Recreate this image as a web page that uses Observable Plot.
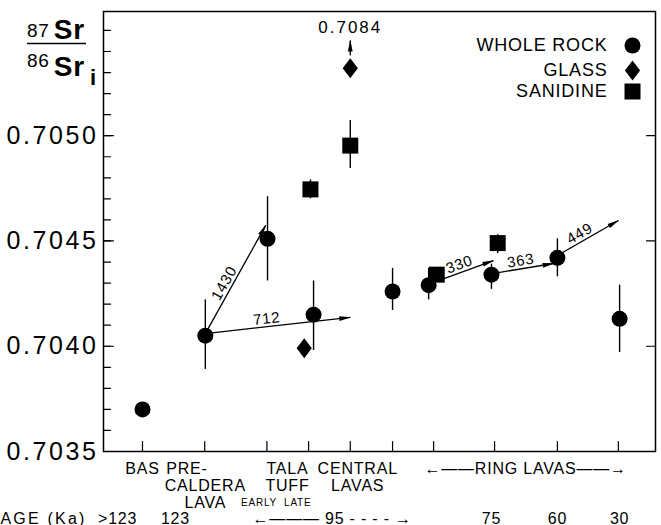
<!DOCTYPE html>
<html><head><meta charset="utf-8">
<script src="https://cdn.jsdelivr.net/npm/d3@7"></script>
<script src="https://cdn.jsdelivr.net/npm/@observablehq/plot@0.6"></script>
<style>
body{margin:0;background:#fff}
#chart svg{font-family:"Liberation Sans",Arial,sans-serif;color:#000}
#chart svg text{letter-spacing:0.8px}
#chart svg g[aria-label="y-axis tick label"] text{letter-spacing:2.6px}
</style>
</head><body><div id="chart"></div>
<script>
// ---- data (x = position along the sample sequence, y = 87Sr/86Sr initial) ----
const wrX  = [1, 2.01, 3.01, 3.75, 5.02, 5.6, 6.61, 7.67, 8.67];
const wrY  = [0.70370, 0.70405, 0.70451, 0.70415, 0.70426, 0.70429, 0.70434, 0.70442, 0.70413];
const wrLo = [null, 0.70389, 0.70431, 0.70398, 0.70417, 0.70422, 0.70427, 0.70433, 0.70397];
const wrHi = [null, 0.70422, 0.70471, 0.70431, 0.70437, 0.70437, 0.70439, 0.70451, 0.70429];

const glX = [3.6, 4.34];
const glY = [0.70399, 0.70532];

const saX  = [3.7, 4.34, 5.73, 6.71];
const saY  = [0.704745, 0.704953, 0.70434, 0.70449];
const saLo = [0.70470, 0.704844, null, 0.70444];
const saHi = [0.70479, 0.705072, null, 0.70453];

const arrowX1 = [2.01, 2.01, 5.76, 6.72, 7.67, 4.34];
const arrowY1 = [0.70406, 0.70406, 0.704312, 0.70435, 0.704431, 0.705381];
const arrowX2 = [2.98, 4.34, 6.64, 7.61, 8.65, 4.34];
const arrowY2 = [0.704574, 0.704137, 0.704407, 0.704393, 0.704597, 0.705452];
const arrowLabels = ["1430", "712", "330", "363", "449", ""];

const offLabel = ["0.7084"], offLabelX = [4.34], offLabelY = [0.705486];

const xTicks = [1, 2, 3, 3.67, 4.34, 5.02, 5.68, 6.66, 7.67, 8.65];
const yLabelTicks = [0.7035, 0.7040, 0.7045, 0.7050];
const yMinorTicks = d3.range(36, 56).map(v => 0.7 + v / 10000);
const yMajorTicks = [0.7040, 0.7045, 0.7050];

const catText = ["BAS", "PRE-\u00a0\u00a0\u00a0\u00a0\u00a0\u00a0\u00a0\nCALDERA\nLAVA", "TALA\nTUFF", "CENTRAL\nLAVAS", "\u2190\u2014\u2014RING LAVAS\u2014\u2014\u2192"];
const catX    = [1, 2.01, 3.33, 4.46, 7.16];
const subText = ["EARLY  LATE"];
const subX = [3.15];
const ageTitle = ["AGE (Ka)"];
const ageText = [">123", "123", "\u2190\u2014\u2014\u2014 95 - - - - \u2192", "75", "60", "30"];
const ageX    = [0.6, 1.53, 4.05, 6.61, 7.67, 8.67];

const legendLabels = ["WHOLE ROCK", "GLASS", "SANIDINE"];

// ---- layout ----
const W = 661, H = 525, mL = 103, mR = 6, mT = 11, mB = 74;
const xDomain = [0.373, 9.247];
const yDomain = [0.7035, 0.70559];
const kx = (W - mL - mR) / (xDomain[1] - xDomain[0]);
const ky = (H - mT - mB) / (yDomain[1] - yDomain[0]);

const circleSym = "circle";
const squareSym = {draw(ctx, size) { const r = Math.sqrt(size / Math.PI); ctx.rect(-r, -r, 2 * r, 2 * r); }};
const diamondSym = {draw(ctx, size) { const r = Math.sqrt(size / Math.PI); const w = r * 0.95, h = r * 1.25;
  ctx.moveTo(0, -h); ctx.lineTo(w, 0); ctx.lineTo(0, h); ctx.lineTo(-w, 0); ctx.closePath(); }};
const headSym = {draw(ctx) { ctx.moveTo(1, 0); ctx.lineTo(-11, -2.4); ctx.lineTo(-11, 2.4); ctx.closePath(); }};
const legendSymbols = [circleSym, diamondSym, squareSym];
const legendDy = [34, 59, 80];

const wr = wrX.map((x, i) => ({x, y: wrY[i], lo: wrLo[i], hi: wrHi[i]}));
const gl = glX.map((x, i) => ({x, y: glY[i]}));
const sa = saX.map((x, i) => ({x, y: saY[i], lo: saLo[i], hi: saHi[i]}));
const errs = [...wr, ...sa].filter(d => d.lo != null);
const arrows = arrowX1.map((x1, i) => {
  const a = {x1, y1: arrowY1[i], x2: arrowX2[i], y2: arrowY2[i], label: arrowLabels[i]};
  const dxp = (a.x2 - a.x1) * kx, dyp = -(a.y2 - a.y1) * ky;
  const len = Math.hypot(dxp, dyp);
  const nx = dyp / len, ny = -dxp / len;
  const t = 0.43, off = 8;
  a.angle = Math.atan2(dyp, dxp) * 180 / Math.PI;
  a.lx = a.x1 + t * (a.x2 - a.x1) + nx * off / kx;
  a.ly = a.y1 + t * (a.y2 - a.y1) - ny * off / ky;
  return a;
});
const arrowText = arrows.filter(a => a.label);

function build(shape) {
  const ticks = (data, opts) => Plot.vector(data, {anchor: "start", shape, r: 0.5, stroke: "black", strokeWidth: 1.2, ...opts});
  const txt = {fill: "black", fontSize: 16};
  const marks = [
    Plot.frame({stroke: "black", strokeWidth: 1.5}),
    ticks(yMinorTicks, {y: d => d, frameAnchor: "left", rotate: 90, length: 7}),
    ticks(yMajorTicks, {y: d => d, frameAnchor: "left", rotate: 90, length: 10}),
    ticks(yMajorTicks, {y: d => d, frameAnchor: "right", rotate: -90, length: 9}),
    ticks(xTicks, {x: d => d, frameAnchor: "bottom", rotate: 0, length: 10}),
    Plot.axisY({ticks: yLabelTicks, tickSize: 0, tickPadding: 5, tickFormat: d => d.toFixed(4), fontSize: 25, anchor: "left"}),
    Plot.ruleX(errs, {x: "x", y1: "lo", y2: "hi", stroke: "black", strokeWidth: 1.4}),
    Plot.link(arrows, {x1: "x1", y1: "y1", x2: "x2", y2: "y2", stroke: "black", strokeWidth: 1.3}),
    Plot.dot(arrows, {x: "x2", y: "y2", rotate: "angle", symbol: headSym, fill: "black", r: 5}),
    Plot.text(arrowText, {x: "lx", y: "ly", text: "label", rotate: "angle", fontSize: 15, fill: "black"}),
    Plot.text(offLabel, {x: offLabelX, y: offLabelY, text: d => d, lineAnchor: "bottom", fill: "black", fontSize: 17}),
    Plot.dot(wr, {x: "x", y: "y", r: 8, fill: "black", symbol: circleSym}),
    Plot.dot(gl, {x: "x", y: "y", r: 8, fill: "black", symbol: diamondSym}),
    Plot.dot(sa, {x: "x", y: "y", r: 8, fill: "black", symbol: squareSym}),
    Plot.text(catText, {x: catX, text: d => d, frameAnchor: "bottom", dy: 10, lineAnchor: "top", lineHeight: 1.0625, ...txt}),
    Plot.text(subText, {x: subX, text: d => d, frameAnchor: "bottom", dy: 54, lineAnchor: "bottom", fill: "black", fontSize: 10}),
    Plot.text(ageTitle, {frameAnchor: "bottom-left", dx: -103, dy: 72, textAnchor: "start", lineAnchor: "bottom", ...txt}),
    Plot.text(ageText, {x: ageX, text: d => d, frameAnchor: "bottom", dy: 72, lineAnchor: "bottom", ...txt}),
    ...legendLabels.map((lab, i) => Plot.text([lab], {frameAnchor: "top-right", dx: -48, dy: legendDy[i], textAnchor: "end", lineAnchor: "middle", fill: "black", fontSize: 18})),
    ...legendSymbols.map((s, i) => Plot.dot([0], {frameAnchor: "top-right", dx: -23, dy: legendDy[i], r: 8, fill: "black", symbol: s}))
  ];
  return Plot.plot({
    width: W, height: H, marginLeft: mL, marginRight: mR, marginTop: mT, marginBottom: mB,
    x: {type: "linear", domain: xDomain, axis: null},
    y: {type: "linear", domain: yDomain},
    style: {fontFamily: '"Liberation Sans", Arial, sans-serif', background: "white", color: "black"},
    marks
  });
}

let svg;
try { svg = build({draw(ctx, l) { ctx.moveTo(0, 0); ctx.lineTo(0, -l); }}); }
catch (e) { svg = build("spike"); }
document.getElementById("chart").appendChild(svg);

const sel = d3.select(svg);
sel.selectAll("text").filter(function() { return this.textContent === "0.7084"; }).style("letter-spacing", "2px");
sel.selectAll("text").filter(function() { return this.textContent === "AGE (Ka)"; }).style("letter-spacing", "2.2px");

// y-axis title (87Sr/86Sr i) in the left margin
const g = sel.append("g").attr("fill", "black").attr("text-anchor", "start")
  .attr("font-family", '"Liberation Sans", Arial, sans-serif').style("letter-spacing", "0px");
const t1 = g.append("text").attr("x", 27).attr("y", 39);
t1.append("tspan").attr("font-size", 19).attr("dy", -2).text("87");
t1.append("tspan").attr("font-size", 28).attr("font-weight", "bold").attr("dx", 4).attr("dy", 2).text("Sr");
g.append("line").attr("x1", 27).attr("x2", 86).attr("y1", 43.5).attr("y2", 43.5).attr("stroke", "black").attr("stroke-width", 1.6);
const t2 = g.append("text").attr("x", 27).attr("y", 67);
t2.append("tspan").attr("font-size", 19).text("86");
t2.append("tspan").attr("font-size", 28).attr("font-weight", "bold").attr("dx", 4).attr("dy", 9).text("Sr");
t2.append("tspan").attr("font-size", 22).attr("font-weight", "bold").attr("dx", 5).attr("dy", 9).text("i");
</script>
</body></html>
